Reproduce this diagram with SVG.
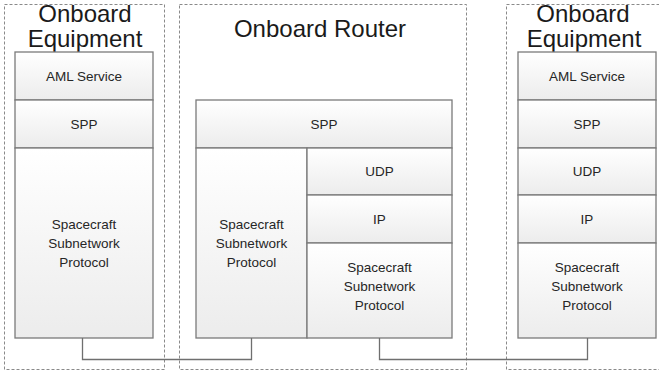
<svg xmlns="http://www.w3.org/2000/svg" width="659" height="371" viewBox="0 0 659 371">
<defs>
<linearGradient id="g" x1="0" y1="0" x2="0" y2="1">
<stop offset="0" stop-color="#ffffff"/>
<stop offset="1" stop-color="#ececec"/>
</linearGradient>
<style>
.c{fill:none;stroke:#8a8a8a;stroke-width:1;stroke-dasharray:3,2}
.b{fill:url(#g);stroke:#7a7a7a;stroke-width:1.3}
.t{font-family:"Liberation Sans",Arial,sans-serif;font-size:13.5px;fill:#262626;text-anchor:middle}
.h{font-family:"Liberation Sans",Arial,sans-serif;font-size:24px;fill:#1a1a1a;text-anchor:middle}
.w{fill:none;stroke:#6f6f6f;stroke-width:1.3}
</style>
</defs>
<rect width="659" height="371" fill="#ffffff"/>
<g id="left-equipment">
<rect class="c" x="4.5" y="4.5" width="160" height="365"/>
<text class="h" x="85" y="22">Onboard</text>
<text class="h" x="85" y="47">Equipment</text>
<g id="l-aml"><rect class="b" x="15" y="52" width="138" height="48"/><text class="t" x="84" y="81">AML Service</text></g>
<g id="l-spp"><rect class="b" x="15" y="100" width="138" height="48"/><text class="t" x="84" y="129">SPP</text></g>
<g id="l-ssp"><rect class="b" x="15" y="148" width="138" height="190"/><text class="t" x="84" y="229">Spacecraft</text><text class="t" x="84" y="248">Subnetwork</text><text class="t" x="84" y="267">Protocol</text></g>
</g>
<g id="router">
<rect class="c" x="179.5" y="4.5" width="287" height="365"/>
<text class="h" x="320" y="37">Onboard Router</text>
<g id="r-spp"><rect class="b" x="196" y="100" width="256" height="48"/><text class="t" x="324" y="129">SPP</text></g>
<g id="r-ssp1"><rect class="b" x="196" y="148" width="111" height="190"/><text class="t" x="251.5" y="229">Spacecraft</text><text class="t" x="251.5" y="248">Subnetwork</text><text class="t" x="251.5" y="267">Protocol</text></g>
<g id="r-udp"><rect class="b" x="307" y="148" width="145" height="47"/><text class="t" x="379.5" y="176">UDP</text></g>
<g id="r-ip"><rect class="b" x="307" y="195" width="145" height="48"/><text class="t" x="379.5" y="224">IP</text></g>
<g id="r-ssp2"><rect class="b" x="307" y="243" width="145" height="95"/><text class="t" x="379.5" y="272">Spacecraft</text><text class="t" x="379.5" y="291">Subnetwork</text><text class="t" x="379.5" y="310">Protocol</text></g>
</g>
<g id="right-equipment">
<rect class="c" x="506.5" y="4.5" width="160" height="365"/>
<text class="h" x="583" y="22">Onboard</text>
<text class="h" x="584" y="47">Equipment</text>
<g id="e-aml"><rect class="b" x="518" y="52" width="138" height="48"/><text class="t" x="587" y="81">AML Service</text></g>
<g id="e-spp"><rect class="b" x="518" y="100" width="138" height="48"/><text class="t" x="587" y="129">SPP</text></g>
<g id="e-udp"><rect class="b" x="518" y="148" width="138" height="47"/><text class="t" x="587" y="176">UDP</text></g>
<g id="e-ip"><rect class="b" x="518" y="195" width="138" height="48"/><text class="t" x="587" y="224">IP</text></g>
<g id="e-ssp"><rect class="b" x="518" y="243" width="138" height="95"/><text class="t" x="587" y="272">Spacecraft</text><text class="t" x="587" y="291">Subnetwork</text><text class="t" x="587" y="310">Protocol</text></g>
</g>
<g id="connectors">
<polyline class="w" points="82.5,338 82.5,359.5 251.5,359.5 251.5,338"/>
<polyline class="w" points="379.5,338 379.5,359.5 587.5,359.5 587.5,338"/>
</g>
</svg>
